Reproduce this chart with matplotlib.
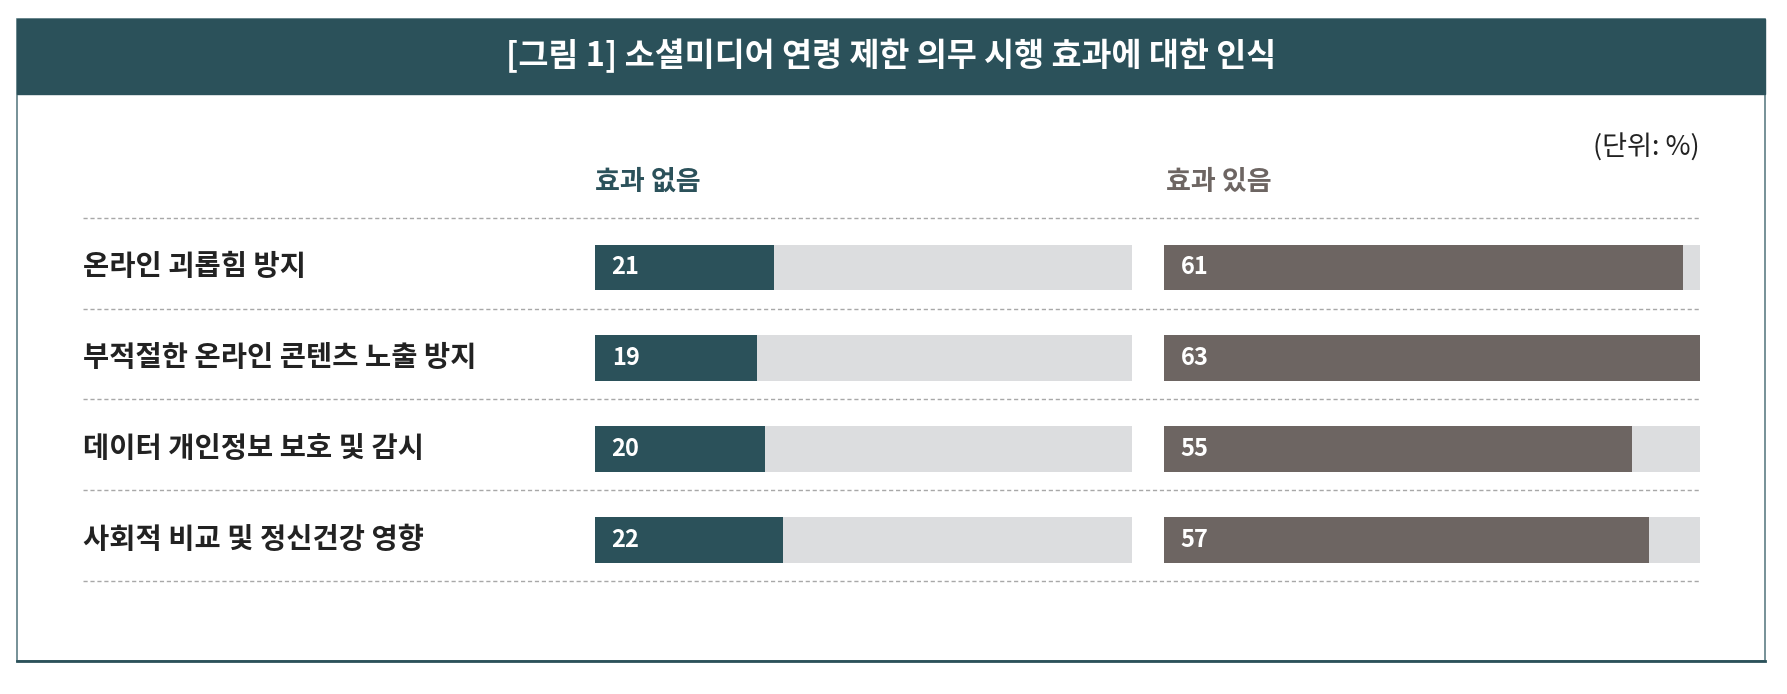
#%%
import matplotlib.pyplot as plt
from matplotlib.patches import Rectangle

#%% 데이터

categories = ['온라인 괴롭힘 방지', '부적절한 온라인 콘텐츠 노출 방지', '데이터 개인정보 보호 및 감시', '사회적 비교 및 정신건강 영향']
no_effect  = [21, 19, 20, 22]
effect     = [61, 63, 55, 57]

title      = '[그림 1] 소셜미디어 연령 제한 의무 시행 효과에 대한 인식'
unit_label = '(단위: %)'
group_names = ['효과 없음', '효과 있음']

#%% 스타일

plt.rcParams['font.family'] = ['Noto Sans CJK KR', 'DejaVu Sans']

teal  = '#2B515A'
brown = '#6D6562'
track = '#DCDDDF'
text_c = '#222222'

W, H = 1787, 694
fig = plt.figure(figsize=(W/100, H/100), dpi=100)

def px_axes(x0, y0, x1, y1):
    # 픽셀 좌표(위에서부터)로 axes 생성
    return fig.add_axes([x0/W, 1 - y1/H, (x1 - x0)/W, (y1 - y0)/H])

# 배경 axes (픽셀 좌표)
bg = fig.add_axes([0, 0, 1, 1])
bg.set_xlim(0, W)
bg.set_ylim(H, 0)
bg.axis('off')

bg.add_patch(Rectangle((17, 19), 1748, 642, facecolor='white', edgecolor='#5F7E85', lw=1.2))
bg.add_patch(Rectangle((17, 19), 1748, 75, facecolor=teal, edgecolor=teal, lw=1))
bg.plot([17, 1765], [661, 661], color=teal, lw=2)

bg.text(891, 56, title, color='white', fontsize=23.5, fontweight='bold', ha='center', va='center')
bg.text(1700, 148, unit_label, color=text_c, fontsize=19.5, ha='right', va='center')
bg.text(595, 182, group_names[0], color=teal, fontsize=19.5, fontweight='bold', ha='left', va='center')
bg.text(1166, 182, group_names[1], color=brown, fontsize=19.5, fontweight='bold', ha='left', va='center')

n = len(categories)
spacing = 90.7
top_c = 267.5
y0 = top_c - spacing/2
y1 = top_c + (n - 0.5)*spacing

# 행 구분선과 항목 라벨
rows = px_axes(83, y0, 1700, y1)
rows.set_xlim(0, 1)
rows.set_ylim(n - 0.5, -0.5)
rows.axis('off')
rows.set_zorder(0)
for i in range(n + 1):
    rows.axhline(i - 0.545, color='#A8A8A8', lw=1, linestyle=(0, (3, 2)), clip_on=False)
for i, c in enumerate(categories):
    rows.text(0, i, c, color=text_c, fontsize=20.5, fontweight='bold', ha='left', va='center')

vmax = max(max(no_effect), max(effect))

for (x0p, x1p), vals, col in [((595, 1132), no_effect, teal), ((1164, 1700), effect, brown)]:
    ax = px_axes(x0p, y0, x1p, y1)
    ax.set_xlim(0, vmax)
    ax.set_ylim(n - 0.5, -0.5)
    ax.axis('off')
    ypos = list(range(n))
    ax.barh(ypos, [vmax]*n, height=0.507, color=track, edgecolor='none')
    ax.barh(ypos, vals, height=0.507, color=col, edgecolor='none')
    for i, v in enumerate(vals):
        ax.annotate(str(v), (0, i), xytext=(12, 0), textcoords='offset points',
                    color='white', fontsize=17, fontweight='bold', ha='left', va='center')

plt.savefig('out.png', dpi=100)
plt.close(fig)
